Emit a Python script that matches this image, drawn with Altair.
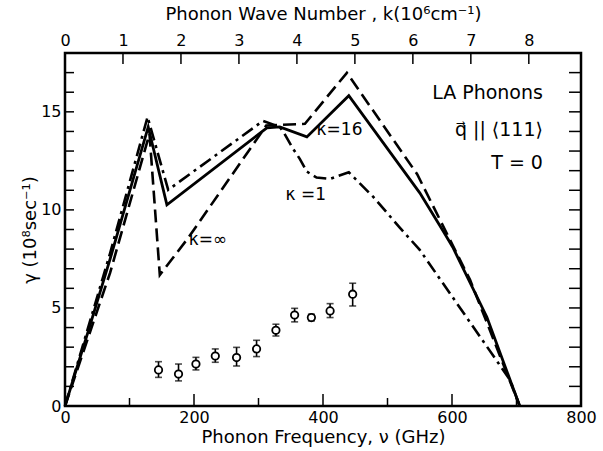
import altair as alt
import pandas as pd

W, H = 516, 353
FONT = "DejaVu Sans"

# --- curves (GHz, gamma in 1e8 /s) ---
solid_ghz = [0, 35, 70, 129, 158, 313, 333, 375, 440, 524, 550, 586, 601, 654, 705]
solid_g = [0, 3.7, 7.5, 14.23, 10.26, 14.18, 14.23, 13.72, 15.82, 12.04, 10.87, 8.94, 8.11, 4.54, 0]

dashed_ghz = [0, 70, 131, 147, 191, 312, 372, 437, 546, 628, 705]
dashed_g = [0, 6.8, 13.88, 6.68, 8.57, 14.3, 14.39, 16.99, 11.82, 6.43, 0]

dashdot_ghz = [0, 70, 128, 160, 307, 333, 340, 352, 364, 375, 390, 411, 440, 478, 519, 550, 690, 705]
dashdot_g = [0, 7.8, 14.74, 11.02, 14.54, 14.23, 13.9, 13.2, 12.6, 11.95, 11.65, 11.58, 11.92, 10.66, 9.1, 7.96, 1.33, 0]

# --- measured points with error bars ---
pt_ghz = [145, 176, 203, 233, 266, 297, 327, 356, 382, 411, 446]
pt_g = [1.84, 1.63, 2.14, 2.55, 2.47, 2.91, 3.86, 4.64, 4.51, 4.85, 5.7]
pt_lo = [1.46, 1.28, 1.84, 2.23, 2.04, 2.52, 3.57, 4.29, 4.34, 4.51, 5.1]
pt_hi = [2.26, 2.14, 2.48, 2.91, 2.99, 3.35, 4.17, 4.98, 4.68, 5.22, 6.26]

# --- annotations ---
curve_labels = ["κ=∞", "κ =1", "κ=16"]
curve_label_ghz = [192, 342, 390]
curve_label_g = [8.47, 10.77, 14.08]

info_labels = ["LA Phonons", "q\u20d7 || ⟨111⟩", "T = 0"]
info_ghz = [741, 741, 741]
info_g = [15.97, 14.08, 12.4]

# --- axis ticks ---
x_major = [200, 400, 600]
x_minor = [100, 300, 500, 700]
x_labels = [0, 200, 400, 600, 800]
y_ticks = list(range(1, 18))
y_labels = [0, 5, 10, 15]
k_ticks = [0, 1, 2, 3, 4, 5, 6, 7, 8]

X = alt.X('ghz:Q', scale=alt.Scale(domain=[0, 800], nice=False, zero=False),
          axis=alt.Axis(values=x_labels, title='Phonon Frequency, ν (GHz)', ticks=False,
                        domain=False, grid=False, labelPadding=3, titlePadding=3,
                        labelFontSize=16, titleFontSize=18, labelFont=FONT, titleFont=FONT,
                        labelColor='black', titleColor='black', titleFontWeight='normal',
                        labelFlush=False, labelOverlap=False))
Y = alt.Y('g:Q', scale=alt.Scale(domain=[0, 18], nice=False, zero=False),
          axis=alt.Axis(values=y_labels, title='γ (10⁸sec⁻¹)', ticks=False,
                        domain=False, grid=False, labelPadding=4, titlePadding=1,
                        labelFontSize=16, titleFontSize=18, labelFont=FONT, titleFont=FONT,
                        labelColor='black', titleColor='black', titleFontWeight='normal',
                        labelFlush=False, labelOverlap=False))


def line_df(xs, ys):
    return pd.DataFrame({'ghz': xs, 'g': ys, 'o': list(range(len(xs)))})


solid = alt.Chart(line_df(solid_ghz, solid_g)).mark_line(
    color='black', strokeWidth=2.8).encode(x=X, y=Y, order='o:Q')
dashed = alt.Chart(line_df(dashed_ghz, dashed_g)).mark_line(
    color='black', strokeWidth=2.6, strokeDash=[13, 6]).encode(x=X, y=Y, order='o:Q')
dashdot = alt.Chart(line_df(dashdot_ghz, dashdot_g)).mark_line(
    color='black', strokeWidth=2.6, strokeDash=[13, 5, 3, 5]).encode(x=X, y=Y, order='o:Q')

pts = pd.DataFrame({'ghz': pt_ghz, 'g': pt_g, 'lo': pt_lo, 'hi': pt_hi})
err = alt.Chart(pts).mark_rule(color='black', strokeWidth=1.6).encode(
    x=X, y=alt.Y('lo:Q'), y2='hi:Q')
cap_lo = alt.Chart(pts).mark_tick(color='black', orient='horizontal', size=7, thickness=1.6).encode(
    x=X, y=alt.Y('lo:Q'))
cap_hi = alt.Chart(pts).mark_tick(color='black', orient='horizontal', size=7, thickness=1.6).encode(
    x=X, y=alt.Y('hi:Q'))
circles = alt.Chart(pts).mark_point(shape='circle', size=55, filled=False, fill='white',
                                    fillOpacity=1, color='black', strokeWidth=1.8,
                                    opacity=1).encode(x=X, y=Y)

clab = alt.Chart(pd.DataFrame({'ghz': curve_label_ghz, 'g': curve_label_g, 't': curve_labels})).mark_text(
    align='left', baseline='middle', fontSize=17, font=FONT, color='black').encode(x=X, y=Y, text='t:N')
info = alt.Chart(pd.DataFrame({'ghz': info_ghz, 'g': info_g, 't': info_labels})).mark_text(
    align='right', baseline='middle', fontSize=19, font=FONT, color='black').encode(x=X, y=Y, text='t:N')

# inward tick marks
xmaj = alt.Chart(pd.DataFrame({'ghz': x_major})).mark_rule(color='black', strokeWidth=1.5).encode(
    x=X, y=alt.value(H), y2=alt.value(H - 12))
xmin = alt.Chart(pd.DataFrame({'ghz': x_minor})).mark_rule(color='black', strokeWidth=1.5).encode(
    x=X, y=alt.value(H), y2=alt.value(H - 8))
yl = alt.Chart(pd.DataFrame({'g': y_ticks})).mark_rule(color='black', strokeWidth=1.5).encode(
    y=Y, x=alt.value(0), x2=alt.value(9))
yr = alt.Chart(pd.DataFrame({'g': y_ticks})).mark_rule(color='black', strokeWidth=1.5).encode(
    y=Y, x=alt.value(W), x2=alt.value(W - 12))

main = alt.layer(xmaj, xmin, yl, yr, dashdot, dashed, solid, err, cap_lo, cap_hi, circles, clab, info)

top = alt.Chart(pd.DataFrame({'k': k_ticks})).mark_rule(color='black', strokeWidth=1.5).encode(
    x=alt.X('k:Q', scale=alt.Scale(domain=[0, 8.9], nice=False, zero=False),
            axis=alt.Axis(orient='top', values=k_ticks, title='Phonon Wave Number , k(10⁶cm⁻¹)',
                          ticks=False, domain=False, grid=False, labelPadding=5, titlePadding=9,
                          labelFontSize=16, titleFontSize=18, labelFont=FONT, titleFont=FONT,
                          labelColor='black', titleColor='black', titleFontWeight='normal',
                          labelFlush=False, labelOverlap=False)),
    y=alt.value(0), y2=alt.value(11))

chart = alt.layer(main, top).resolve_scale(x='independent').properties(
    width=W, height=H,
    padding={'left': 65, 'top': 53, 'right': 22, 'bottom': 45},
    autosize=alt.AutoSizeParams(type='none'),
    background='white',
).configure_view(stroke='black', strokeWidth=2.5)

chart.save("out.html", embed_options={"renderer": "svg", "actions": False})
